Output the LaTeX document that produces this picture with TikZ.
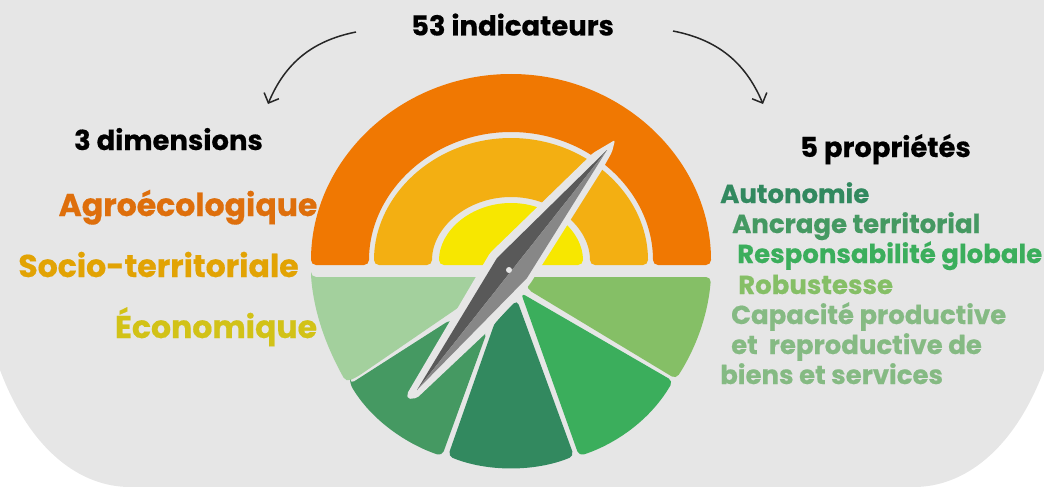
\documentclass[tikz,border=0pt]{standalone}
\usepackage{fontspec}
\setmainfont{Poppins}[BoldFeatures={FakeBold=0.5}]
\usetikzlibrary{arrows.meta}
\definecolor{fond}{HTML}{E6E6E6}
\definecolor{orangeA}{HTML}{F07802}
\definecolor{orangeB}{HTML}{F3AF12}
\definecolor{jauneC}{HTML}{F7E700}
\definecolor{vertA}{HTML}{A3D09D}
\definecolor{vertB}{HTML}{459962}
\definecolor{vertC}{HTML}{32895F}
\definecolor{vertD}{HTML}{3BAE5C}
\definecolor{vertE}{HTML}{85BF66}
\definecolor{txtA}{HTML}{DE6F0C}
\definecolor{txtB}{HTML}{E2A304}
\definecolor{txtC}{HTML}{D2C217}
\definecolor{txtF}{HTML}{85BA83}
\tikzset{
  sector/.style={rounded corners=5pt},
  titre/.style={font=\bfseries\fontsize{27.5}{32}\selectfont, text=black, inner sep=0pt, anchor=base},
  dimension/.style={font=\bfseries\fontsize{31.5}{36}\selectfont, inner sep=0pt, anchor=base},
  propriete/.style={font=\bfseries\fontsize{26}{30}\selectfont, inner sep=0pt, anchor=base west},
  fleche/.style={-{Straight Barb[length=8pt,width=16pt]}, line width=1.5pt, draw=black!85}
}
\begin{document}
\begin{tikzpicture}[x=1pt,y=-1pt]
  \useasboundingbox (0,0) rectangle (1044,487);
  % fond
  \fill [fond] (0,0) -- (1044,0) -- (1044,370) .. controls (1014,450) and (964,487) .. (914,487)
    -- (130,487) .. controls (80,487) and (30,450) .. (0,370) -- cycle;
  % demi-disques
  \fill [orangeA, sector] (311,265) arc [start angle=180, end angle=360, x radius=200, y radius=191]
    -- (653,265) arc [start angle=360, end angle=180, x radius=142, y radius=133] -- cycle;
  \fill [orangeB, sector] (374,265) arc [start angle=180, end angle=360, x radius=137, y radius=127]
    -- (590,265) arc [start angle=360, end angle=180, x radius=79, y radius=68] -- cycle;
  \fill [jauneC, sector] (439,265) arc [start angle=180, end angle=360, x radius=72, y radius=62] -- cycle;
  % secteurs
  \fill [vertA, sector] (311,277) -- (503,277) -- (357,377) -- (346,382)
    .. controls (326,346) and (315,315) .. cycle;
  \fill [vertB, sector] (350,384) -- (450,320) -- (487,332) -- (442,456)
    .. controls (412,446) and (374,424) .. cycle;
  \fill [vertC, sector] (495,322) -- (517,300) -- (574,456)
    .. controls (535,472) and (487,472) .. (448,456) -- cycle;
  \fill [vertD, sector] (521,293) -- (673,381) .. controls (648,424) and (610,446) .. (579,456) -- cycle;
  \fill [vertE, sector] (527,289) -- (527,277) -- (711,277) .. controls (708,315) and (696,348) .. (676,379) -- cycle;
  % aiguille
  \fill [fond, rounded corners=2pt] (615,140) -- (593,153) -- (490,253) -- (407,394) -- (408,399) -- (417,398)
    -- (487,332) -- (530,284) -- (602,170) -- (612,152) -- cycle;
  \fill [black!65] (607,150) -- (497,258) -- (417,390) -- cycle;
  \fill [black!47] (607,150) -- (527,278) -- (417,390) -- cycle;
  \node [circle, fill=fond, inner sep=0pt, minimum size=6pt] (pivot) at (509,270) {};
  % textes
  \node [titre] (indic) at (512.5,35.5) {53 indicateurs};
  \node [titre] (dims) at (168.5,150) {3 dimensions};
  \node [titre] (props) at (885.5,157) {5 propriétés};
  \node [dimension, text=txtA] (agro) at (188,216) {Agroécologique};
  \node [dimension, text=txtB] (socio) at (158.5,277) {Socio-territoriale};
  \node [dimension, text=txtC] (eco) at (216,338) {Économique};
  \node [propriete, text=vertC] (auto) at (720,203) {Autonomie};
  \node [propriete, text=vertB] (ancr) at (732,233) {Ancrage territorial};
  \node [propriete, text=vertD] (resp) at (737,263) {Responsabilité globale};
  \node [propriete, text=vertE] (robu) at (738,294) {Robustesse};
  \node [propriete, text=txtF] (capa) at (731,324) {Capacité productive};
  \node [propriete, text=txtF] (repr) at (731,354) {et\ \ reproductive de};
  \node [propriete, text=txtF] (bien) at (720,384) {biens et services};
  % fleches
  \coordinate (gd) at (356,32);
  \coordinate (ga) at (268,104);
  \coordinate (dd) at (673,31);
  \coordinate (da) at (763,104);
  \draw [fleche] (gd) to [bend right=28] (ga);
  \draw [fleche] (dd) to [bend left=28] (da);
\end{tikzpicture}
\end{document}
